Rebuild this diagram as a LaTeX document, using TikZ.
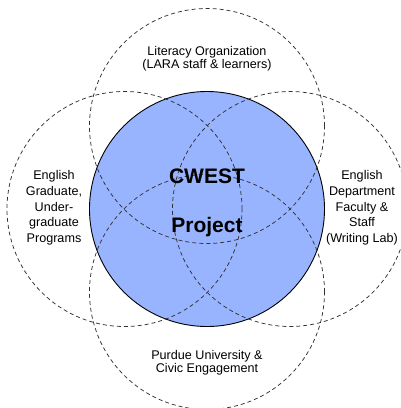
\documentclass[tikz,border=0pt]{standalone}
\usepackage{fontspec}
\setmainfont{Liberation Sans}
\definecolor{cwestblue}{RGB}{153,180,255}
\definecolor{dashgray}{RGB}{50,50,50}
\tikzset{
  ring/.style={circle, draw=dashgray, line width=0.75pt, dash pattern=on 4pt off 3pt, minimum size=235pt, inner sep=0pt},
  core/.style={circle, draw=black, line width=0.9pt, fill=cwestblue, minimum size=235pt, inner sep=0pt},
  lbl/.style={align=center, inner sep=0pt, font=\fontsize{12.6}{15.7}\selectfont},
  lbltight/.style={align=center, inner sep=0pt, font=\fontsize{12.6}{13.4}\selectfont},
  big/.style={inner sep=0pt, anchor=base, font=\fontsize{21}{24}\selectfont\bfseries}
}
\begin{document}
\begin{tikzpicture}[x=1pt,y=-1pt]
\useasboundingbox (0,0) rectangle (401,408);
\clip (0,0) rectangle (401,408);
\node[core] (core) at (207,209) {};
\node[ring] (top) at (207,126) {};
\node[ring] (bottom) at (207,292) {};
\node[ring] (left) at (124.5,209) {};
\node[ring] (right) at (290,209) {};
\node[lbltight] (toptext) at (207,58.5) {Literacy Organization\\(LARA staff \& learners)};
\node[lbltight] (bottomtext) at (207,363) {Purdue University \&\\Civic Engagement};
\node[lbl] (lefttext) at (54,208) {English\\Graduate,\\Under-\\graduate\\Programs};
\node[lbl] (righttext) at (362,208) {English\\Department\\Faculty \&\\Staff\\(Writing Lab)};
\node[big] (cwest) at (207,183.5) {CWEST};
\node[big] (project) at (207,232) {Project};
\end{tikzpicture}
\end{document}
